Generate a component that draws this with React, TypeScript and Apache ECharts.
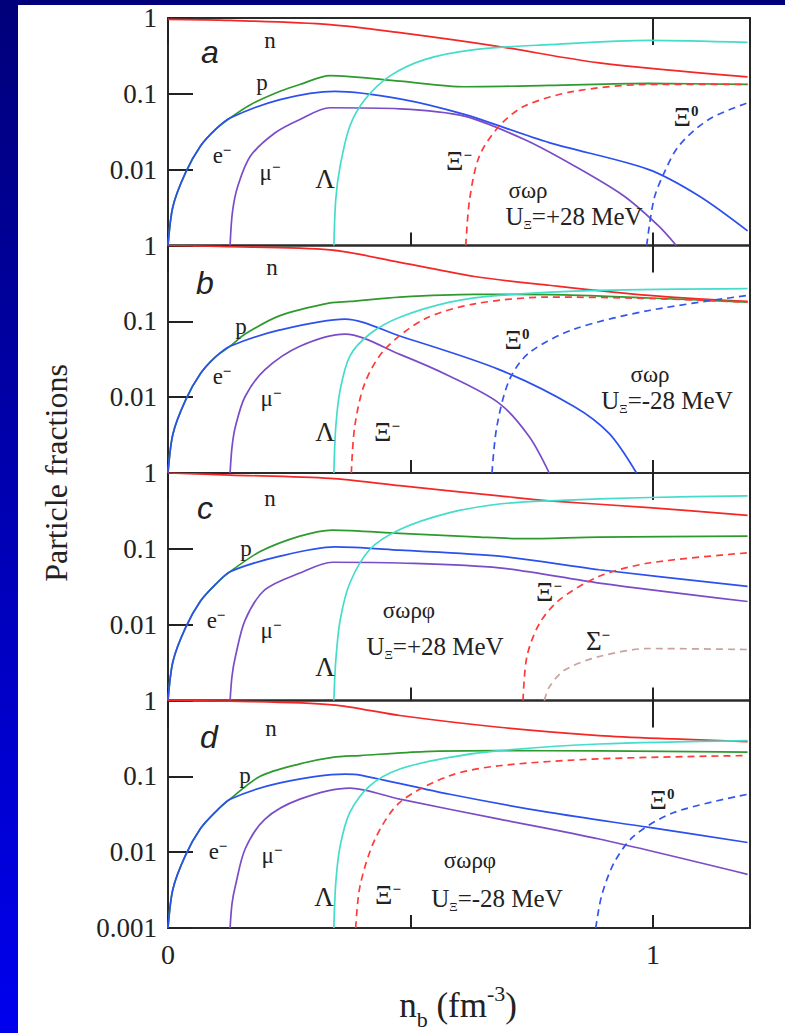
import React, { useEffect, useRef } from "react";
import * as echarts from "echarts";

// ---------- data (x = n_b in fm^-3, y = particle fraction) ----------
const lepPrefix = [[0, 0.001], [0.0103, 0.0033], [0.036, 0.0091], [0.067, 0.0205], [0.098, 0.034]];

// panel a : sigma-omega-rho, U_Xi = +28 MeV
const aN = [[0, 0.96], [0.128, 0.93], [0.334, 0.82], [0.478, 0.64], [0.683, 0.42], [0.889, 0.256], [1.195, 0.167]];
const aP = [...lepPrefix, [0.128, 0.048], [0.17, 0.072], [0.231, 0.108], [0.272, 0.133], [0.334, 0.174], [0.478, 0.147], [0.611, 0.124], [0.786, 0.129], [0.99, 0.137], [1.195, 0.133]];
const aE = [...lepPrefix, [0.128, 0.048], [0.231, 0.084], [0.344, 0.108], [0.478, 0.086], [0.611, 0.0535], [0.786, 0.0227], [0.99, 0.0101], [1.095, 0.0045], [1.195, 0.00156]];
const aMu = [[0.128, 0.001], [0.133, 0.0028], [0.144, 0.0061], [0.17, 0.0151], [0.221, 0.0307], [0.272, 0.046], [0.334, 0.0655], [0.478, 0.0635], [0.611, 0.0508], [0.735, 0.025], [0.838, 0.0112], [0.94, 0.0045], [1.012, 0.0018], [1.048, 0.001]];
const aLam = [[0.342, 0.001], [0.346, 0.0041], [0.355, 0.0112], [0.375, 0.0376], [0.406, 0.084], [0.457, 0.171], [0.529, 0.283], [0.632, 0.383], [0.786, 0.446], [0.992, 0.508], [1.195, 0.478]];
const aXiM = [[0.614, 0.001], [0.622, 0.0041], [0.642, 0.0151], [0.683, 0.0376], [0.735, 0.069], [0.838, 0.108], [0.992, 0.133], [1.195, 0.133]];
const aXi0 = [[0.987, 0.001], [1.002, 0.0041], [1.023, 0.0091], [1.053, 0.0205], [1.115, 0.046], [1.195, 0.076]];

// panel b : sigma-omega-rho, U_Xi = -28 MeV
const bN = [[0, 1.0], [0.108, 0.97], [0.334, 0.875], [0.478, 0.6], [0.632, 0.39], [0.786, 0.299], [0.992, 0.22], [1.195, 0.183]];
const bP = [...lepPrefix, [0.128, 0.047], [0.159, 0.068], [0.231, 0.119], [0.334, 0.175], [0.375, 0.183], [0.478, 0.209], [0.632, 0.227], [0.786, 0.225], [0.992, 0.203], [1.195, 0.179]];
const bE = [...lepPrefix, [0.128, 0.047], [0.231, 0.077], [0.365, 0.107], [0.478, 0.064], [0.683, 0.0231], [0.838, 0.0075], [0.91, 0.0033], [0.966, 0.001]];
const bMu = [[0.128, 0.001], [0.132, 0.0022], [0.139, 0.0041], [0.159, 0.0102], [0.2, 0.0231], [0.272, 0.047], [0.365, 0.068], [0.478, 0.0367], [0.581, 0.0189], [0.683, 0.0083], [0.745, 0.003], [0.786, 0.001]];
const bLam = [[0.342, 0.001], [0.346, 0.0041], [0.355, 0.0125], [0.375, 0.0348], [0.416, 0.068], [0.478, 0.113], [0.581, 0.179], [0.683, 0.22], [0.889, 0.256], [1.195, 0.27]];
const bXiM = [[0.378, 0.001], [0.385, 0.0041], [0.406, 0.0154], [0.447, 0.0428], [0.529, 0.107], [0.632, 0.17], [0.786, 0.209], [0.992, 0.2], [1.195, 0.179]];
const bXi0 = [[0.668, 0.001], [0.678, 0.0041], [0.704, 0.017], [0.745, 0.0386], [0.838, 0.079], [0.992, 0.139], [1.195, 0.22]];

// panel c : sigma-omega-rho-phi, U_Xi = +28 MeV
const cN = [[0, 1.0], [0.128, 0.94], [0.334, 0.85], [0.478, 0.68], [0.683, 0.5], [0.786, 0.43], [0.992, 0.35], [1.195, 0.277]];
const cP = [...lepPrefix, [0.128, 0.05], [0.19, 0.092], [0.272, 0.147], [0.339, 0.177], [0.478, 0.16], [0.632, 0.144], [0.735, 0.136], [0.889, 0.143], [1.195, 0.147]];
const cE = [...lepPrefix, [0.128, 0.05], [0.231, 0.08], [0.344, 0.106], [0.478, 0.096], [0.683, 0.08], [0.889, 0.053], [1.195, 0.032]];
const cMu = [[0.128, 0.001], [0.132, 0.0021], [0.139, 0.0038], [0.159, 0.0115], [0.2, 0.0289], [0.272, 0.048], [0.339, 0.0665], [0.478, 0.065], [0.683, 0.056], [0.889, 0.0354], [1.195, 0.0202]];
const cLam = [[0.342, 0.001], [0.346, 0.0034], [0.355, 0.0115], [0.375, 0.0354], [0.416, 0.098], [0.478, 0.18], [0.581, 0.3], [0.683, 0.39], [0.786, 0.43], [0.992, 0.475], [1.195, 0.5]];
const cXiM = [[0.732, 0.001], [0.74, 0.0038], [0.766, 0.0104], [0.807, 0.0212], [0.889, 0.0434], [0.992, 0.065], [1.195, 0.0885]];
const cSigM = [[0.776, 0.001], [0.786, 0.0015], [0.817, 0.0025], [0.889, 0.0038], [0.992, 0.00485], [1.195, 0.0047]];

// panel d : sigma-omega-rho-phi, U_Xi = -28 MeV
const dN = [[0, 1.0], [0.128, 0.98], [0.339, 0.877], [0.478, 0.634], [0.683, 0.444], [0.889, 0.345], [1.043, 0.311], [1.195, 0.287]];
const dP = [...lepPrefix, [0.128, 0.05], [0.19, 0.1], [0.272, 0.146], [0.339, 0.178], [0.396, 0.188], [0.529, 0.212], [0.683, 0.218], [0.889, 0.216], [1.195, 0.208]];
const dE = [...lepPrefix, [0.128, 0.05], [0.231, 0.082], [0.365, 0.107], [0.396, 0.104], [0.581, 0.058], [0.786, 0.0334], [0.992, 0.0212], [1.195, 0.0134]];
const dMu = [[0.128, 0.001], [0.132, 0.0021], [0.139, 0.0036], [0.159, 0.011], [0.2, 0.0273], [0.272, 0.05], [0.375, 0.07], [0.478, 0.05], [0.683, 0.0273], [0.889, 0.0149], [1.195, 0.0051]];
const dLam = [[0.342, 0.001], [0.346, 0.004], [0.355, 0.0121], [0.375, 0.0334], [0.416, 0.075], [0.478, 0.125], [0.581, 0.178], [0.683, 0.218], [0.889, 0.267], [1.195, 0.296]];
const dXiM = [[0.387, 0.001], [0.396, 0.0036], [0.427, 0.0149], [0.478, 0.0453], [0.581, 0.102], [0.683, 0.138], [0.889, 0.17], [1.195, 0.188]];
const dXi0 = [[0.882, 0.001], [0.894, 0.00265], [0.92, 0.0073], [0.961, 0.0164], [1.043, 0.0334], [1.195, 0.058]];

const yTickLabels = ["0.001", "0.01", "0.1", "1"];
const xTickLabels: Record<string, string> = { "0": "0", "1": "1" };
const panelLetters = ["a", "b", "c", "d"];
const modelNames = ["σωρ", "σωρ", "σωρφ", "σωρφ"];
const potentials = ["+28 MeV", "-28 MeV", "+28 MeV", "-28 MeV"];

// ---------- styling ----------
const SERIF = "'Liberation Serif', 'Times New Roman', serif";
const SANS = "'Liberation Sans', Arial, sans-serif";
const INK = "#222";
const C = {
  n: "#f52626",
  p: "#2e9a2e",
  e: "#2b50ee",
  mu: "#7a4cc8",
  lam: "#44dccb",
  xim: "#ff3a3a",
  xi0: "#3454ee",
  sig: "#c9a29f",
};

const PANEL_TOP = 18;
const PANEL_H = 227.5;
const LEFT = 168;
const RIGHT = 35;

type Pt = number[];
interface Curve { data: Pt[]; color: string; dashed?: boolean; }

const panels: Curve[][] = [
  [
    { data: aN, color: C.n }, { data: aP, color: C.p }, { data: aE, color: C.e }, { data: aMu, color: C.mu },
    { data: aLam, color: C.lam }, { data: aXiM, color: C.xim, dashed: true }, { data: aXi0, color: C.xi0, dashed: true },
  ],
  [
    { data: bN, color: C.n }, { data: bP, color: C.p }, { data: bE, color: C.e }, { data: bMu, color: C.mu },
    { data: bLam, color: C.lam }, { data: bXiM, color: C.xim, dashed: true }, { data: bXi0, color: C.xi0, dashed: true },
  ],
  [
    { data: cN, color: C.n }, { data: cP, color: C.p }, { data: cE, color: C.e }, { data: cMu, color: C.mu },
    { data: cLam, color: C.lam }, { data: cXiM, color: C.xim, dashed: true }, { data: cSigM, color: C.sig, dashed: true },
  ],
  [
    { data: dN, color: C.n }, { data: dP, color: C.p }, { data: dE, color: C.e }, { data: dMu, color: C.mu },
    { data: dLam, color: C.lam }, { data: dXiM, color: C.xim, dashed: true }, { data: dXi0, color: C.xi0, dashed: true },
  ],
];

// label layout (pixel positions of annotations)
type Lab = [number, number, string];
const labelLayout: Lab[][] = [
  [[270, 40, "{m|n}"], [262, 82, "{m|p}"], [222, 155, "{m|e}{sup|−}"], [270, 172, "{m|μ}{sup|−}"], [325, 179, "{g|Λ}"], [459, 161, "{g|Ξ}{sup|−}"], [686, 117, "{g|Ξ}{sup|0}"]],
  [[272, 267, "{m|n}"], [241, 326, "{m|p}"], [222, 376, "{m|e}{sup|−}"], [271, 398, "{m|μ}{sup|−}"], [325, 432, "{g|Λ}"], [387, 432, "{g|Ξ}{sup|−}"], [517, 340, "{g|Ξ}{sup|0}"]],
  [[270, 498, "{m|n}"], [246, 548, "{m|p}"], [216, 620, "{m|e}{sup|−}"], [271, 630, "{m|μ}{sup|−}"], [325, 667, "{g|Λ}"], [549, 592, "{g|Ξ}{sup|−}"], [598, 641, "{g|Σ}{sup|−}"]],
  [[271, 728, "{m|n}"], [245, 775, "{m|p}"], [218, 851, "{m|e}{sup|−}"], [272, 855, "{m|μ}{sup|−}"], [324, 897, "{g|Λ}"], [388, 895, "{g|Ξ}{sup|−}"], [662, 800, "{g|Ξ}{sup|0}"]],
];
const letterPos: number[][] = [[210, 52], [205, 283], [205, 508], [209, 737]];
const modelPos: number[][] = [[528, 190], [650, 374], [409, 610], [470, 860]];
const potPos: number[][] = [[574, 216], [667, 400], [435, 646], [497, 898]];

export default function App() {
  const ref = useRef<HTMLDivElement>(null);
  useEffect(() => {
    if (!ref.current) return;
    const chart = echarts.init(ref.current, undefined, { renderer: "svg" });

    const grids: any[] = [];
    const xAxes: any[] = [];
    const yAxes: any[] = [];
    const series: any[] = [];
    const graphics: any[] = [];

    const mainTok = { fontSize: 23, fontFamily: SERIF, fill: INK, verticalAlign: "top", lineHeight: 26, padding: [2, 0, 0, 0] };
    const greekTok = { fontSize: 27, fontFamily: SERIF, fill: INK, verticalAlign: "top", lineHeight: 28 };
    const supTok = { fontSize: 15, fontFamily: SERIF, fill: INK, fontWeight: "bold", verticalAlign: "top", lineHeight: 15 };

    panels.forEach((curves, i) => {
      const last = i === 3;
      grids.push({
        left: LEFT, right: RIGHT, top: PANEL_TOP + i * PANEL_H, height: PANEL_H,
        show: true, borderColor: "#2a2a2a", borderWidth: 2, backgroundColor: "transparent",
      });
      xAxes.push({
        type: "value", gridIndex: i, min: 0, max: 1.2, interval: 0.5,
        axisLine: { show: false }, splitLine: { show: false },
        axisTick: { show: true, inside: true, length: 13, lineStyle: { color: INK, width: 2 } },
        axisLabel: {
          show: last, margin: 12, fontSize: 28, fontFamily: SERIF, color: INK,
          formatter: (v: number) => xTickLabels[String(Math.round(v * 100) / 100)] ?? "",
        },
      });
      xAxes.push({
        type: "value", gridIndex: i, min: 0, max: 1.2, interval: 1,
        axisLine: { show: false }, splitLine: { show: false },
        axisTick: { show: true, inside: true, length: 27, lineStyle: { color: INK, width: 2 } },
        axisLabel: { show: false },
      });
      yAxes.push({
        type: "log", logBase: 10, gridIndex: i, min: 0.001, max: 1,
        axisLine: { show: false }, splitLine: { show: false },
        axisTick: { show: true, inside: true, length: 25, lineStyle: { color: INK, width: 2 } },
        axisLabel: {
          margin: 11, fontSize: 27, fontFamily: SERIF, color: INK,
          formatter: (v: number) => {
            const e = Math.round(Math.log10(v));
            if (e === -3 && !last) return "";
            return yTickLabels[e + 3] ?? "";
          },
        },
      });
      curves.forEach((c) => {
        series.push({
          type: "line", xAxisIndex: i * 2, yAxisIndex: i, data: c.data,
          smooth: 0.3, showSymbol: false, symbol: "none", clip: true,
          lineStyle: { color: c.color, width: 1.7, type: c.dashed ? [7, 5] : "solid" },
          z: 3,
        });
      });

      // annotations
      graphics.push({
        type: "text", x: letterPos[i][0], y: letterPos[i][1], z: 10,
        style: {
          text: panelLetters[i], fill: INK, font: `italic 32px ${SANS}`,
          textAlign: "center", textVerticalAlign: "middle",
        },
      });
      labelLayout[i].forEach(([x, y, t]) => {
        graphics.push({
          type: "text", x, y, z: 10,
          style: {
            text: t, fill: INK, font: `23px ${SERIF}`,
            textAlign: "center", textVerticalAlign: "middle",
            rich: { m: mainTok, g: greekTok, sup: supTok },
          },
        });
      });
      graphics.push({
        type: "text", x: modelPos[i][0], y: modelPos[i][1], z: 10,
        style: { text: modelNames[i], fill: INK, font: `23px ${SERIF}`, textAlign: "center", textVerticalAlign: "middle" },
      });
      graphics.push({
        type: "text", x: potPos[i][0], y: potPos[i][1], z: 10,
        style: {
          text: "{m|U}{sub|Ξ}{m|=" + potentials[i] + "}", fill: INK, font: `25px ${SERIF}`,
          textAlign: "center", textVerticalAlign: "middle",
          rich: {
            m: { fontSize: 25, fontFamily: SERIF, fill: INK, verticalAlign: "top", lineHeight: 25 },
            sub: { fontSize: 13, fontFamily: SERIF, fill: INK, verticalAlign: "top", lineHeight: 13, padding: [14, 0, 0, 0] },
          },
        },
      });
    });

    graphics.push({
      type: "text", x: 56, y: 473, rotation: Math.PI / 2, z: 10,
      style: { text: "Particle fractions", fill: INK, font: `32px ${SERIF}`, textAlign: "center", textVerticalAlign: "middle" },
    });
    graphics.push({
      type: "text", x: 458, y: 1000, z: 10,
      style: {
        text: "{m|n}{sub|b}{m| (fm}{sup|-3}{m|)}", fill: INK, font: `35px ${SERIF}`,
        textAlign: "center", textVerticalAlign: "middle",
        rich: {
          m: { fontSize: 35, fontFamily: SERIF, fill: INK, verticalAlign: "top", lineHeight: 36, padding: [6, 0, 0, 0] },
          sub: { fontSize: 22, fontFamily: SERIF, fill: INK, verticalAlign: "top", lineHeight: 22, padding: [26, 0, 0, 0] },
          sup: { fontSize: 22, fontFamily: SERIF, fill: INK, verticalAlign: "top", lineHeight: 22 },
        },
      },
    });

    chart.setOption({
      animation: false,
      grid: grids,
      xAxis: xAxes,
      yAxis: yAxes,
      series,
      graphic: graphics,
    });
    return () => chart.dispose();
  }, []);

  return (
    <div style={{ position: "absolute", left: 0, top: 0, width: 785, height: 1033, background: "linear-gradient(#00007a, #0000ee)", overflow: "hidden" }}>
      <div style={{ position: "absolute", left: 18, top: 5, width: 767, height: 1028, background: "#fff" }} />
      <div ref={ref} style={{ position: "absolute", left: 0, top: 0, width: 785, height: 1033 }} />
    </div>
  );
}
